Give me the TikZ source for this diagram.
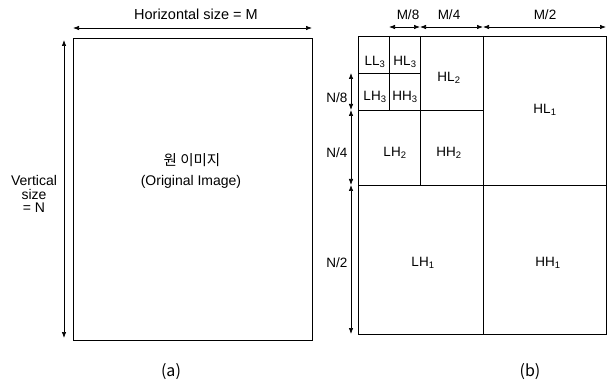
\documentclass[tikz,border=0pt]{standalone}
\usepackage{fontspec}
\setmainfont{Liberation Sans}
\newfontfamily\krfont{Noto Sans CJK KR}
\usetikzlibrary{arrows.meta}
\begin{document}
\begin{tikzpicture}[x=1pt,y=-1pt,line width=0.8pt,
  dim/.style={{Latex[length=6pt,width=4.5pt]}-{Latex[length=6pt,width=4.5pt]},line width=0.7pt},
  lbl/.style={font=\fontsize{13.5}{15}\selectfont,inner sep=0pt},
  captext/.style={font=\krfont\fontsize{16}{18}\selectfont,inner sep=0pt}]
\useasboundingbox (0,0) rectangle (608,385);
% (a)
\coordinate (aTL) at (73,38);
\coordinate (aBR) at (312,340);
\draw (aTL) rectangle (aBR);
\coordinate (hL) at (73,28);
\coordinate (hR) at (312,28);
\draw[dim] (hL) -- (hR);
\node[lbl,font=\fontsize{14.5}{16}\selectfont] (htext) at (196,14) {Horizontal size = M};
\coordinate (vT) at (64,40);
\coordinate (vB) at (64,338);
\draw[dim] (vT) -- (vB);
\node[lbl,align=center,font=\fontsize{14}{13.3}\selectfont] (vtext) at (34,194) {Vertical\\size\\= N};
\node[captext,font=\krfont\fontsize{14.5}{16}\selectfont] (kr) at (192,160) {원 이미지};
\node[lbl,font=\fontsize{14}{16}\selectfont] (orig) at (191,182) {(Original Image)};
\node[captext] (la) at (171,372) {(a)};
% (b)
\coordinate (bTL) at (358,36);
\coordinate (bBR) at (606,334);
\draw (bTL) rectangle (bBR);
\draw (483,36) -- (483,334);
\draw (358,185) -- (606,185);
\draw (420,36) -- (420,185);
\draw (358,110) -- (483,110);
\draw (389,36) -- (389,110);
\draw (358,73) -- (420,73);
% top dims
\coordinate (m0) at (389,27);
\coordinate (m1) at (420,27);
\coordinate (m2) at (483,27);
\coordinate (m3) at (606,27);
\draw[dim] (m0) -- (m1);
\draw[dim] (m1) -- (m2);
\draw[dim] (m2) -- (m3);
\node[lbl] (tm8) at (408,15) {M/8};
\node[lbl] (tm4) at (449,15) {M/4};
\node[lbl] (tm2) at (545,15) {M/2};
% left dims
\coordinate (n0) at (351,73);
\coordinate (n1) at (351,110);
\coordinate (n2) at (351,185);
\coordinate (n3) at (351,334);
\draw[dim] (n0) -- (n1);
\draw[dim] (n1) -- (n2);
\draw[dim] (n2) -- (n3);
\node[lbl] (tn8) at (337,98) {N/8};
\node[lbl] (tn4) at (337,153) {N/4};
\node[lbl] (tn2) at (337,263) {N/2};
% cell labels
\node[lbl] (LL3) at (375,62) {LL\textsubscript{3}};
\node[lbl] (HL3) at (405,62) {HL\textsubscript{3}};
\node[lbl] (LH3) at (375,97) {LH\textsubscript{3}};
\node[lbl] (HH3) at (405,97) {HH\textsubscript{3}};
\node[lbl] (HL2) at (449,78) {HL\textsubscript{2}};
\node[lbl] (LH2) at (395,153) {LH\textsubscript{2}};
\node[lbl] (HH2) at (449,153) {HH\textsubscript{2}};
\node[lbl] (HL1) at (545,110) {HL\textsubscript{1}};
\node[lbl] (LH1) at (423,263) {LH\textsubscript{1}};
\node[lbl] (HH1) at (548,263) {HH\textsubscript{1}};
\node[captext] (lb) at (530,372) {(b)};
\end{tikzpicture}
\end{document}
